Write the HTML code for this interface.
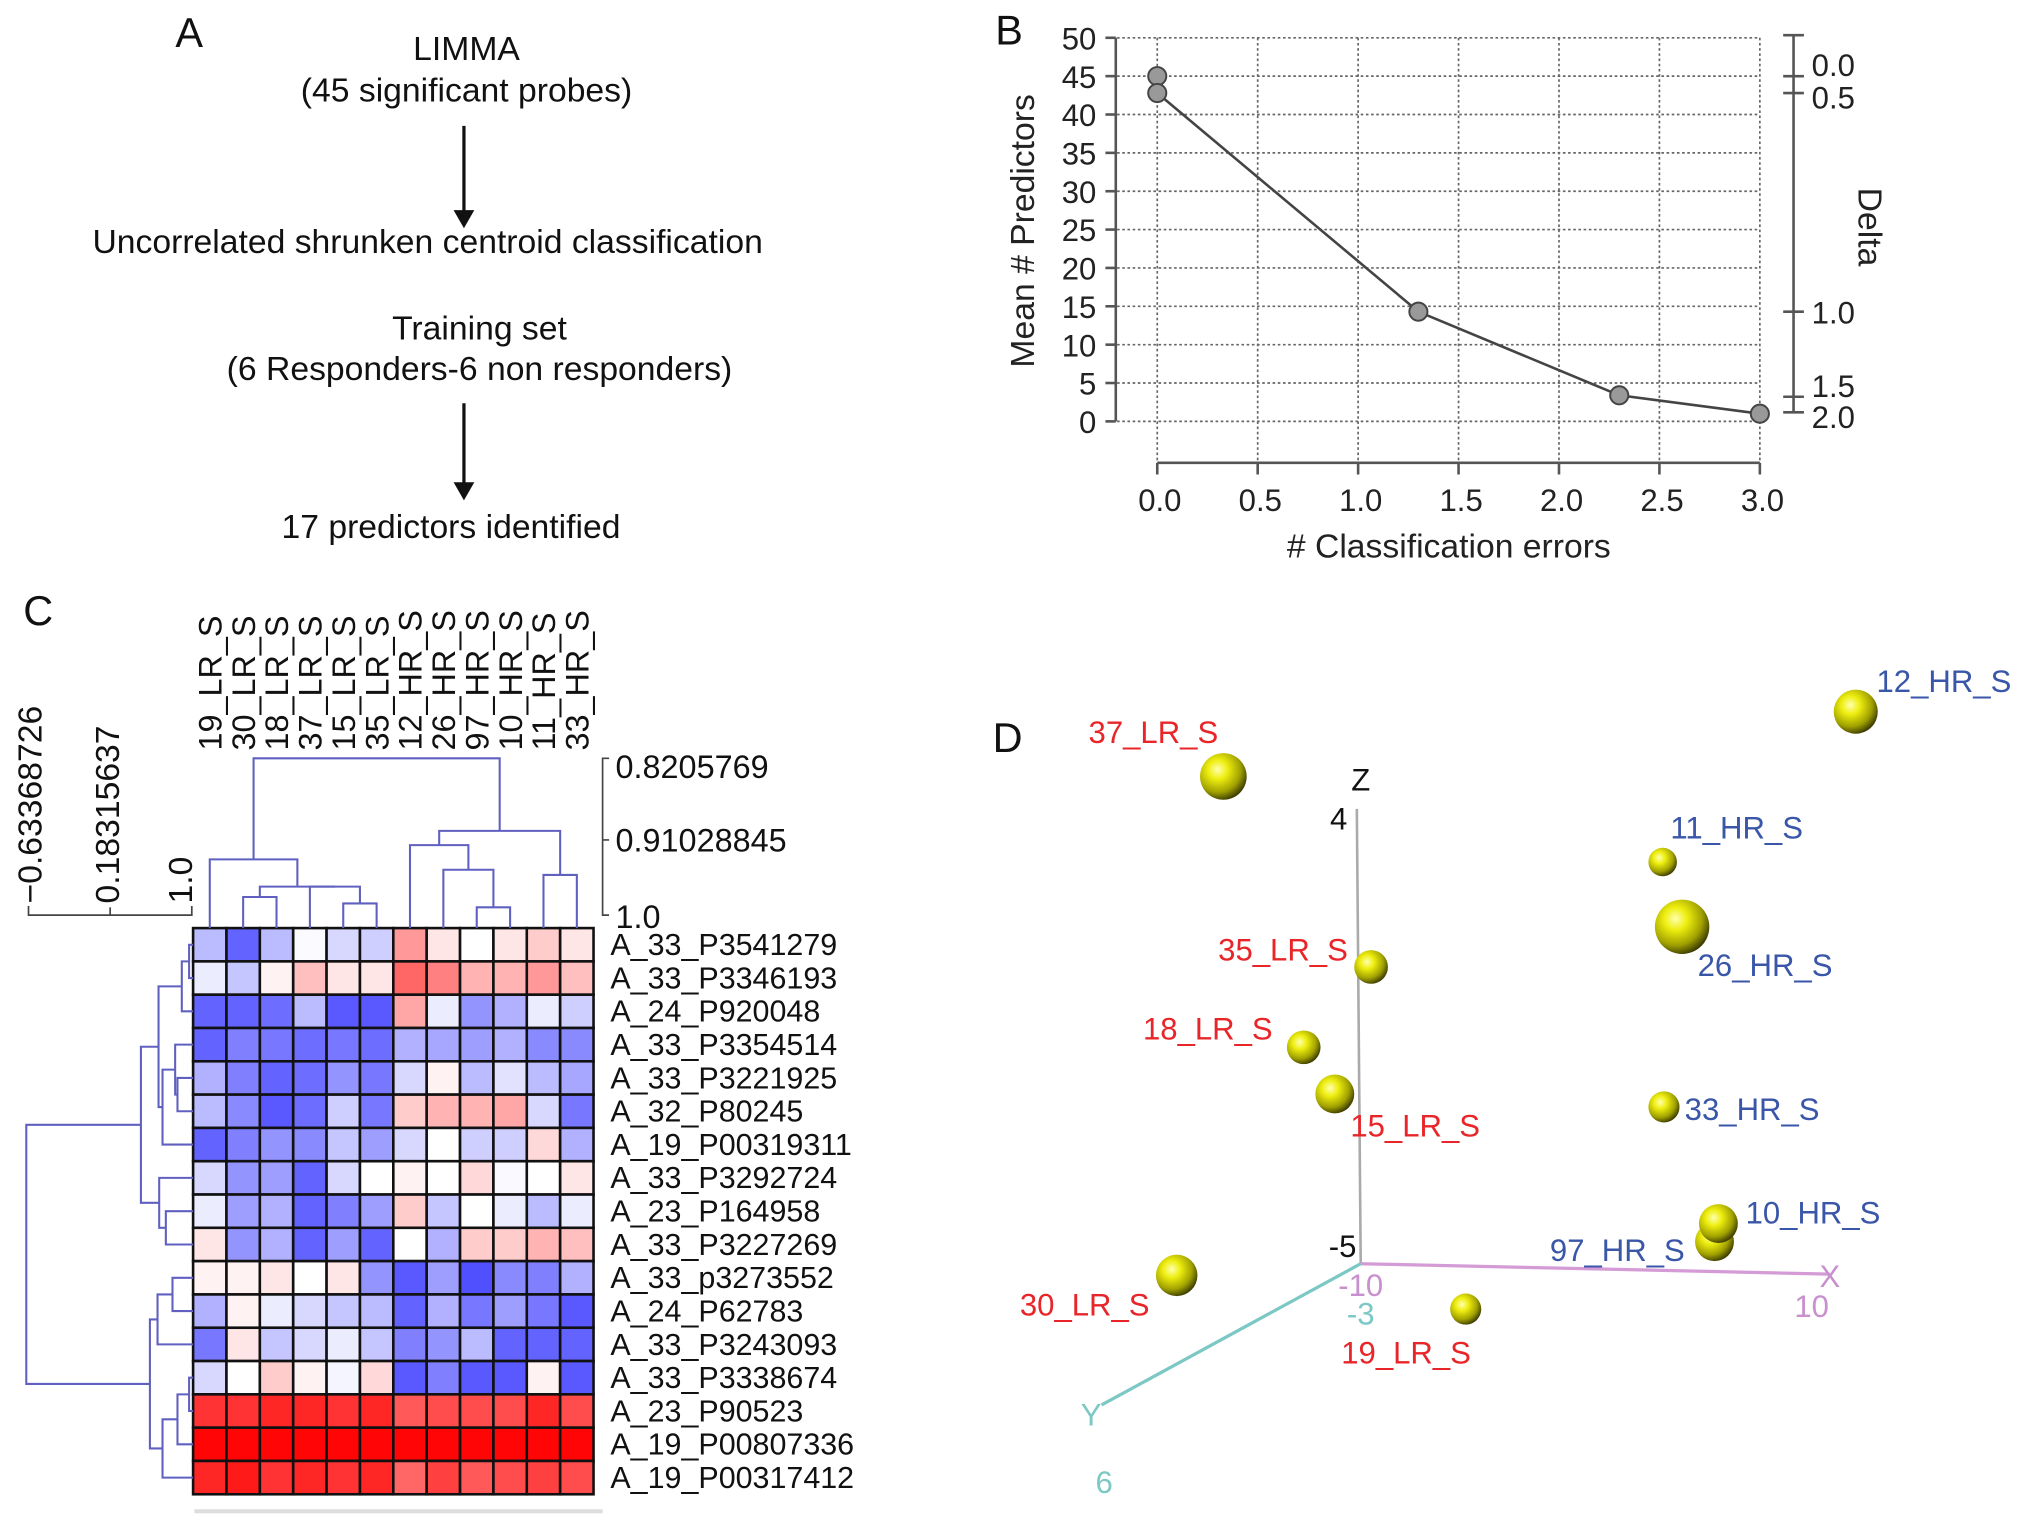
<!DOCTYPE html>
<html><head><meta charset="utf-8">
<style>
html,body{margin:0;padding:0;background:#fff;}
svg{display:block;font-family:"Liberation Sans",Arial,sans-serif;}
</style></head>
<body>
<svg id="fig" width="2032" height="1527" viewBox="0 0 1568 1178" xmlns="http://www.w3.org/2000/svg">
<defs>
<radialGradient id="sph" cx="0.38" cy="0.35" r="0.7">
<stop offset="0" stop-color="#ffffb0"/>
<stop offset="0.3" stop-color="#eeee10"/>
<stop offset="0.7" stop-color="#a0a000"/>
<stop offset="1" stop-color="#303000"/>
</radialGradient>
</defs>
<!-- Panel A -->
<g font-size="26" fill="#111" text-anchor="middle">
<text x="146" y="36" font-size="32">A</text>
<text x="360" y="46">LIMMA</text>
<text x="360" y="78">(45 significant probes)</text>
<line x1="358" y1="97" x2="358" y2="165" stroke="#111" stroke-width="2.5"/>
<polygon points="350,162 366,162 358,176" fill="#111"/>
<text x="330" y="195">Uncorrelated shrunken centroid classification</text>
<text x="370" y="262">Training set</text>
<text x="370" y="293">(6 Responders-6 non responders)</text>
<line x1="358" y1="311" x2="358" y2="374" stroke="#111" stroke-width="2.5"/>
<polygon points="350,372 366,372 358,386" fill="#111"/>
<text x="348" y="415">17 predictors identified</text>
</g>
<g id="panelB"></g>
<g id="panelC"></g>
<g id="panelD"></g>
</svg>
<script>
// ---------- Panel B data ----------
const bErrors = [0, 0, 1.3, 2.3, 3.0];
const bPredictors = [45, 42.8, 14.3, 3.4, 1.0];
const bXTicks = [0, 0.5, 1.0, 1.5, 2.0, 2.5, 3.0];
const bYTicks = [0, 5, 10, 15, 20, 25, 30, 35, 40, 45, 50];
const bDeltaLabels = ["0.0", "0.5", "1.0", "1.5", "2.0"];
const bDeltaPredictors = [45, 42.8, 14.3, 3.4, 1.0];

// ---------- Panel C data ----------
const cColumns = ["19_LR_S","30_LR_S","18_LR_S","37_LR_S","15_LR_S","35_LR_S","12_HR_S","26_HR_S","97_HR_S","10_HR_S","11_HR_S","33_HR_S"];
const cRows = ["A_33_P3541279","A_33_P3346193","A_24_P920048","A_33_P3354514","A_33_P3221925","A_32_P80245","A_19_P00319311","A_33_P3292724","A_23_P164958","A_33_P3227269","A_33_p3273552","A_24_P62783","A_33_P3243093","A_33_P3338674","A_23_P90523","A_19_P00807336","A_19_P00317412"];
const cRow0 = [-0.35,-0.8,-0.35,-0.02,-0.2,-0.25,0.4,0.1,0,0.1,0.2,0.1];
const cRow1 = [-0.1,-0.3,0.05,0.25,0.1,0.1,0.6,0.5,0.3,0.3,0.4,0.25];
const cRow2 = [-0.8,-0.8,-0.75,-0.35,-0.85,-0.85,0.35,-0.1,-0.55,-0.4,-0.1,-0.25];
const cRow3 = [-0.8,-0.65,-0.7,-0.75,-0.7,-0.75,-0.4,-0.45,-0.5,-0.4,-0.6,-0.6];
const cRow4 = [-0.4,-0.65,-0.8,-0.75,-0.55,-0.7,-0.2,0.05,-0.35,-0.15,-0.35,-0.45];
const cRow5 = [-0.35,-0.6,-0.85,-0.75,-0.25,-0.7,0.2,0.3,0.3,0.35,-0.2,-0.7];
const cRow6 = [-0.8,-0.65,-0.55,-0.6,-0.3,-0.5,-0.2,0,-0.25,-0.25,0.15,-0.4];
const cRow7 = [-0.2,-0.55,-0.5,-0.8,-0.2,0,0.05,0,0.15,-0.03,0,0.1];
const cRow8 = [-0.1,-0.5,-0.4,-0.8,-0.65,-0.5,0.2,-0.3,0,-0.1,-0.35,-0.1];
const cRow9 = [0.1,-0.55,-0.4,-0.8,-0.5,-0.8,0,-0.4,0.2,0.2,0.3,0.25];
const cRow10 = [0.05,0.05,0.1,0,0.1,-0.55,-0.85,-0.5,-0.9,-0.6,-0.65,-0.4];
const cRow11 = [-0.4,0.05,-0.1,-0.2,-0.3,-0.35,-0.8,-0.4,-0.7,-0.5,-0.7,-0.85];
const cRow12 = [-0.7,0.1,-0.3,-0.2,-0.1,-0.3,-0.65,-0.55,-0.35,-0.8,-0.8,-0.8];
const cRow13 = [-0.2,0,0.2,0.05,-0.05,0.15,-0.85,-0.65,-0.85,-0.85,0.05,-0.85];
const cRow14 = [0.8,0.8,0.85,0.85,0.8,0.85,0.65,0.7,0.7,0.7,0.85,0.7];
const cRow15 = [0.98,0.98,0.98,0.98,0.98,0.98,0.98,0.98,0.98,0.98,0.98,0.98];
const cRow16 = [0.85,0.9,0.8,0.85,0.8,0.85,0.6,0.75,0.65,0.7,0.75,0.7];
const cValues = [cRow0,cRow1,cRow2,cRow3,cRow4,cRow5,cRow6,cRow7,cRow8,cRow9,cRow10,cRow11,cRow12,cRow13,cRow14,cRow15,cRow16];
const cColScaleLabels = ["0.8205769","0.91028845","1.0"];
const cRowScaleLabels = ["\u22120.63368726","0.18315637","1.0"];

// ---------- Panel D data ----------
const dSamples = ["37_LR_S","12_HR_S","11_HR_S","26_HR_S","35_LR_S","18_LR_S","15_LR_S","33_HR_S","97_HR_S","10_HR_S","30_LR_S","19_LR_S"];
const dScreenX = [944,1432,1283,1298,1058,1006,1030,1284,1323,1326,908,1131];
const dScreenY = [599,549,665,715,746,808,844,854,958,944,984,1010];
const dSize = [18,17,11,21,13,13,15,12,15,15,16,12];

const NS = "http://www.w3.org/2000/svg";
function mk(parent, tag, attrs, text) {
  const e = document.createElementNS(NS, tag);
  for (const k in attrs) e.setAttribute(k, attrs[k]);
  if (text !== undefined) e.textContent = text;
  parent.appendChild(e);
  return e;
}

// ================= PANEL B =================
(function(){
  const g = document.getElementById('panelB');
  const x0 = 893, xPer = 155, y0 = 325, yPer = 5.92;
  const sx = v => x0 + v * xPer;
  const sy = v => y0 - v * yPer;
  let t = mk(g,'text',{x:768,y:34,'font-size':32,fill:'#111'},'B');
   
  bXTicks.forEach(v=>{
    const l = mk(g,'line',{x1:sx(v),y1:sy(50),x2:sx(v),y2:357,stroke:'#666','stroke-width':1.3,'stroke-dasharray':'2,2'});
     
  });
  bYTicks.forEach(v=>{
    const l = mk(g,'line',{x1:862,y1:sy(v),x2:sx(3),y2:sy(v),stroke:'#666','stroke-width':1.3,'stroke-dasharray':'2,2'});
     
  });
  let ax = mk(g,'line',{x1:861,y1:sy(50),x2:861,y2:sy(0),stroke:'#555','stroke-width':2});
   
  bYTicks.forEach(v=>{
    mk(g,'line',{x1:853,y1:sy(v),x2:861,y2:sy(v),stroke:'#555','stroke-width':2});
    const tt = mk(g,'text',{x:846,y:sy(v)+9,'font-size':24,'text-anchor':'end',fill:'#222'},String(v));
     
  });
  let bx = mk(g,'line',{x1:sx(0),y1:357,x2:sx(3),y2:357,stroke:'#555','stroke-width':2});
   
  bXTicks.forEach(v=>{
    mk(g,'line',{x1:sx(v),y1:357,x2:sx(v),y2:366,stroke:'#555','stroke-width':2});
    const tt = mk(g,'text',{x:sx(v)+2,y:394,'font-size':24,'text-anchor':'middle',fill:'#222'},v.toFixed(1));
     
  });
  let xl = mk(g,'text',{x:1118,y:430,'font-size':26,'text-anchor':'middle',fill:'#222'},'# Classification errors');
   
  let yl = mk(g,'text',{x:0,y:0,'font-size':26,'text-anchor':'middle',fill:'#222',transform:'translate(798,178) rotate(-90)'},'Mean # Predictors');
   
  let ra = mk(g,'line',{x1:1384,y1:27,x2:1384,y2:318,stroke:'#555','stroke-width':2});
   
  mk(g,'line',{x1:1376,y1:27,x2:1392,y2:27,stroke:'#555','stroke-width':2});
  const deltaY = [sy(bDeltaPredictors[0]), sy(bDeltaPredictors[1]), sy(bDeltaPredictors[2]), 306, 318];
  bDeltaLabels.forEach((lab,i)=>{
    mk(g,'line',{x1:1376,y1:deltaY[i],x2:1392,y2:deltaY[i],stroke:'#555','stroke-width':2});
    const off = i===0 ? 0 : i===1 ? 12 : i===3 ? 0 : i===4 ? 12 : 9;
    const tt = mk(g,'text',{x:1398,y:deltaY[i]+off,'font-size':24,fill:'#222'},lab);
     
  });
  let dl = mk(g,'text',{x:0,y:0,'font-size':26,'text-anchor':'middle',fill:'#222',transform:'translate(1434,175) rotate(90)'},'Delta');
   
  let pts = [];
  for (let i=1;i<bErrors.length;i++) pts.push(sx(bErrors[i])+','+sy(bPredictors[i]));
  let pl = mk(g,'polyline',{points:pts.join(' '),fill:'none',stroke:'#444','stroke-width':2});
   
  bErrors.forEach((e,i)=>{
    const c = mk(g,'circle',{cx:sx(e),cy:sy(bPredictors[i]),r:7,fill:'#999',stroke:'#444','stroke-width':1.5});
     
  });
})();

// ================= PANEL C =================
(function(){
  const g = document.getElementById('panelC');
  const L = 149, T = 716, cw = 25.75, rh = 25.7;
  const colX = i => L + cw*(i+0.5);
  const rowY = i => T + rh*(i+0.5);
  let t = mk(g,'text',{x:18,y:482,'font-size':32,fill:'#111'},'C');
   
  function color(v){
    v = Math.max(-1,Math.min(1,v));
    if (v<0){ const a=-v; return `rgb(${Math.round(255-a*(255-60))},${Math.round(255-a*(255-60))},255)`; }
    return `rgb(255,${Math.round(255-v*255)},${Math.round(255-v*255)})`;
  }
  cValues.forEach((row,r)=>{
    row.forEach((v,c)=>{
      const rc = mk(g,'rect',{x:L+cw*c,y:T+rh*r,width:cw,height:rh,fill:color(v),stroke:'#111','stroke-width':2});
       
    });
  });
  cRows.forEach((name,r)=>{
    const tt = mk(g,'text',{x:471,y:rowY(r)+8,'font-size':23.5,fill:'#111'},name);
     
  });
  cColumns.forEach((name,c)=>{
    const tt = mk(g,'text',{x:0,y:0,'font-size':25,fill:'#111',transform:`translate(${colX(c)+9},579) rotate(-90)`},name);
     
  });
  const dend = '#6060c0';
  const colNodes = [[1,2,692],[4,5,697],[3,13,684],[12,14,684],[0,15,663],[8,9,700],[7,17,671],[6,18,652],[10,11,675],[19,20,641],[16,21,585]];
  const cpos = cColumns.map((_,i)=>({x:colX(i),y:T}));
  colNodes.forEach(n=>{
    const a=cpos[n[0]], b=cpos[n[1]], h=n[2];
    const p = mk(g,'path',{d:`M${a.x},${a.y}V${h}H${b.x}V${b.y}`,fill:'none',stroke:dend,'stroke-width':1.6});
     
    cpos.push({x:(a.x+b.x)/2,y:h});
  });
  const cs = mk(g,'path',{d:'M470,585H465V706H470M465,648H470',fill:'none',stroke:'#444','stroke-width':1.3});
   
  [[585,600],[648,657],[706,716]].forEach((p,i)=>{
    const tt = mk(g,'text',{x:475,y:p[1],'font-size':25,fill:'#111'},cColScaleLabels[i]);
     
  });
  const zx = v => 149 - (582-v)/3.9;
  const rowNodes = [[0,1,570],[17,2,548],[4,5,535],[3,19,528],[20,6,490],[18,21,478],[8,9,500],[7,23,480],[22,24,425],[10,11,520],[26,12,475],[13,14,570],[15,28,535],[29,16,490],[27,30,452],[25,31,80]];
  const rpos = cRows.map((_,i)=>({x:L,y:rowY(i)}));
  rowNodes.forEach(n=>{
    const a=rpos[n[0]], b=rpos[n[1]], h=zx(n[2]);
    const p = mk(g,'path',{d:`M${a.x},${a.y}H${h}V${b.y}H${b.x}`,fill:'none',stroke:dend,'stroke-width':1.6});
     
    rpos.push({x:h,y:(a.y+b.y)/2});
  });
  const rs = mk(g,'path',{d:'M22,699V706H148V699M85,706V700',fill:'none',stroke:'#444','stroke-width':1.3});
   
  [32,92,148].forEach((x,i)=>{
    const tt = mk(g,'text',{x:0,y:0,'font-size':26,fill:'#111',transform:`translate(${x},697) rotate(-90)`},cRowScaleLabels[i]);
     
  });
  const bl = mk(g,'line',{x1:150,y1:1166,x2:465,y2:1166,stroke:'#ddd','stroke-width':3});
   
})();

// ================= PANEL D =================
(function(){
  const g = document.getElementById('panelD');
  let t = mk(g,'text',{x:766,y:580,'font-size':32,fill:'#111'},'D');
   
  const zA = mk(g,'line',{x1:1047,y1:624,x2:1050,y2:975,stroke:'#aaa','stroke-width':2});
   
  const xA = mk(g,'line',{x1:1050,y1:975,x2:1412,y2:983,stroke:'#d49bd6','stroke-width':2.5});
   
  const yA = mk(g,'line',{x1:1050,y1:975,x2:850,y2:1084,stroke:'#7cc8c4','stroke-width':2.5});
   
  const labs = [['Z',1050,610,'#111','z-axis-title'],['4',1033,640,'#111','z-max-label'],['-5',1036,970,'#111','z-min-label'],
    ['X',1412,993,'#c890cc','x-axis-title'],['10',1398,1016,'#c890cc','x-max-label'],['-10',1050,1000,'#c890cc','x-min-label'],
    ['-3',1050,1022,'#7cc8c4','y-min-label'],['Y',842,1100,'#7cc8c4','y-axis-title'],['6',852,1152,'#7cc8c4','y-max-label']];
  labs.forEach(l=>{
    const tt = mk(g,'text',{x:l[1],y:l[2],'font-size':24,fill:l[3],'text-anchor':'middle'},l[0]);
     
  });
  const lOff = {"37_LR_S":[-54,-26,'middle'],"12_HR_S":[16,-15,'start'],"11_HR_S":[6,-18,'start'],"26_HR_S":[12,38,'start'],
    "35_LR_S":[-118,-5,'start'],"18_LR_S":[-124,-6,'start'],"15_LR_S":[12,33,'start'],"33_HR_S":[16,10,'start'],
    "97_HR_S":[-127,15,'start'],"10_HR_S":[21,0,'start'],"30_LR_S":[-121,31,'start'],"19_LR_S":[-96,42,'start']};
  dSamples.forEach((s,i)=>{
    const c = mk(g,'circle',{cx:dScreenX[i],cy:dScreenY[i],r:dSize[i],fill:'url(#sph)'});
     
    const o = lOff[s];
    const col = s.indexOf('LR')>=0 ? '#e8262a' : '#3a56a8';
    const tt = mk(g,'text',{x:dScreenX[i]+o[0],y:dScreenY[i]+o[1],'font-size':24,fill:col,'text-anchor':o[2]},s);
     
  });
})();
</script>
</body></html>
